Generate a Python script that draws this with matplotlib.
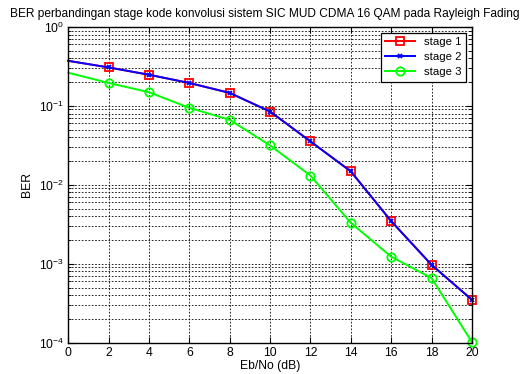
import matplotlib
matplotlib.use("Agg")
import matplotlib.pyplot as plt
from matplotlib.ticker import LogLocator, NullFormatter

plt.rcParams["font.family"] = ["Liberation Sans", "DejaVu Sans"]
plt.rcParams["font.size"] = 8.7

ebno = [0, 2, 4, 6, 8, 10, 12, 14, 16, 18, 20]
stage1 = [0.372, 0.307, 0.248, 0.195, 0.146, 0.0848, 0.0355, 0.0148, 0.00347, 0.00097, 0.00035]
stage2 = [0.372, 0.307, 0.248, 0.195, 0.146, 0.0848, 0.0355, 0.0148, 0.00347, 0.00097, 0.00035]
stage3 = [0.263, 0.195, 0.149, 0.0944, 0.0666, 0.0316, 0.0131, 0.0033, 0.00123, 0.00066, 0.000102]
xticks = list(range(0, 21, 2))

fig = plt.figure(figsize=(5.29, 3.74), dpi=100)
ax = fig.add_axes([0.129, 0.0837, 0.763, 0.8443])

mk = slice(1, None)
ax.semilogy(ebno, stage1, color=(1, 0, 0), lw=1.4, marker="s", ms=6,
            mfc="none", mew=1.3, markevery=mk, label="stage 1", clip_on=False)
ax.semilogy(ebno, stage2, color=(0, 0, 1), lw=1.4, marker="x", ms=3.5,
            mew=1.3, markevery=mk, label="stage 2", clip_on=False)
ax.semilogy(ebno, stage3, color=(0, 1, 0), lw=1.4, marker="o", ms=6,
            mfc="none", mew=1.3, markevery=mk, label="stage 3", clip_on=False)

ax.set_xlim(0, 20)
ax.set_ylim(1e-4, 1)
ax.set_xticks(xticks)
ax.yaxis.set_major_locator(LogLocator(base=10, numticks=10))
ax.yaxis.set_minor_locator(LogLocator(base=10, subs=range(2, 10), numticks=50))
ax.yaxis.set_minor_formatter(NullFormatter())

grid_style = dict(color="black", linestyle=(0, (2, 2)), linewidth=0.6)
ax.grid(True, which="major", **grid_style)
ax.grid(True, which="minor", axis="y", **grid_style)
ax.tick_params(which="both", direction="in", top=True, right=True, colors="black")
ax.tick_params(which="major", length=4, width=0.8, pad=3)
ax.tick_params(which="minor", length=2, width=0.6)
for s in ax.spines.values():
    s.set_linewidth(1.0)

ax.set_xlabel("Eb/No (dB)", labelpad=1)
ax.set_ylabel("BER", labelpad=4)
# title is wider than the axes; centre it on the figure so it fits
ax.set_title("BER perbandingan stage kode konvolusi sistem SIC MUD CDMA 16 QAM pada Rayleigh Fading",
             fontsize=8.6, pad=7, x=0.486)

leg = ax.legend(loc="upper right", fancybox=False, framealpha=1, edgecolor="black",
                handlelength=2.6, borderaxespad=0.5, labelspacing=0.45, fontsize=8.2)
leg.get_frame().set_linewidth(0.9)

fig.savefig("out.png", dpi=100)
